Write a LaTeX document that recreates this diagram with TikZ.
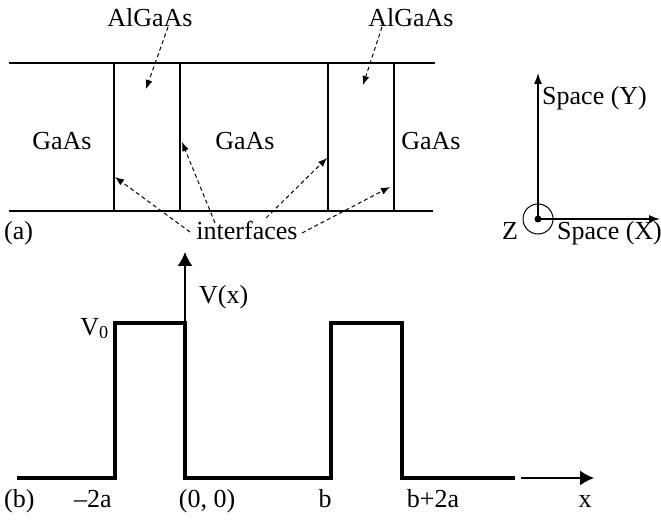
\documentclass[tikz,border=0pt]{standalone}
\usepackage{fontspec}
\setmainfont{Liberation Serif}
\usetikzlibrary{arrows.meta}
\begin{document}
\begin{tikzpicture}[x=1pt,y=-1pt,
  font=\fontsize{26}{30}\selectfont,
  layer/.style={line width=2pt},
  pot/.style={line width=4.5pt, line join=miter},
  dasharr/.style={line width=1pt, dash pattern=on 4pt off 3pt, -{Latex[length=9pt,width=7pt]}},
  axarr/.style={line width=1.3pt, -{Latex[length=11pt,width=8pt]}},
  bigarr/.style={line width=1.5pt, -{Latex[length=14pt,width=15pt]}},
  lbl/.style={inner sep=0pt, anchor=base}]
\useasboundingbox (0,0) rectangle (661,521);
% layers
\draw[layer] (9,63) -- (435,63);
\draw[layer] (9,211) -- (433,211);
\foreach \xx in {114,180,328,394} \draw[layer] (\xx,63) -- (\xx,211);
% labels top
\node[lbl] (al1) at (150,27) {AlGaAs};
\node[lbl] (al2) at (411,27) {AlGaAs};
\node[lbl] (ga1) at (62,150) {GaAs};
\node[lbl] (ga2) at (245,150) {GaAs};
\node[lbl] (ga3) at (431,150) {GaAs};
\node[lbl] (intf) at (247,240) {interfaces};
\node[lbl, anchor=base west] (la) at (4,240) {(a)};
% dashed arrows
\coordinate (a1s) at (168,27); \coordinate (a1e) at (146,89);
\coordinate (a2s) at (382,27); \coordinate (a2e) at (363,85);
\coordinate (i1s) at (190,232); \coordinate (i1e) at (115,177);
\coordinate (i2s) at (215,223); \coordinate (i2e) at (182,142);
\coordinate (i3s) at (266,218); \coordinate (i3e) at (327,158);
\coordinate (i4s) at (302,233); \coordinate (i4e) at (390,187);
\draw[dasharr] (a1s) -- (a1e);
\draw[dasharr] (a2s) -- (a2e);
\draw[dasharr] (i1s) -- (i1e);
\draw[dasharr] (i2s) -- (i2e);
\draw[dasharr] (i3s) -- (i3e);
\draw[dasharr] (i4s) -- (i4e);
% coordinate axes
\coordinate (o) at (538,219);
\coordinate (ytip) at (538,73);
\coordinate (xtip) at (660,219);
\draw[axarr] (o) -- (ytip);
\draw[axarr] (o) -- (xtip);
\draw[line width=1pt] (o) circle[radius=15];
\fill (o) circle[radius=3.5];
\node[lbl, anchor=base west] (sy) at (542,105) {Space (Y)};
\node[lbl, anchor=base west] (sx) at (557,240) {Space (X)};
\node[lbl] (z) at (510,240) {Z};
% potential
\draw[pot] (17,478) -- (115,478) -- (115,323) -- (185,323) -- (185,478)
  -- (331,478) -- (331,323) -- (402,323) -- (402,478) -- (515,478);
\coordinate (vb) at (185,323); \coordinate (vt) at (185,252);
\draw[bigarr] (vb) -- (vt);
\coordinate (xb) at (521,478); \coordinate (xt) at (594,478);
\draw[bigarr] (xb) -- (xt);
\node[lbl, anchor=base west] (vx) at (199,303) {V(x)};
\node[lbl, anchor=base east] (v0) at (109,335) {V\textsubscript{0}};
\node[lbl, anchor=base west] (lb) at (4,507) {(b)};
\node[lbl] (m2a) at (93,507) {\textendash2a};
\node[lbl] (oo) at (207,507) {(0, 0)};
\node[lbl] (bb) at (325,507) {b};
\node[lbl] (b2a) at (433,507) {b+2a};
\node[lbl] (xx) at (585,507) {x};
\end{tikzpicture}
\end{document}
